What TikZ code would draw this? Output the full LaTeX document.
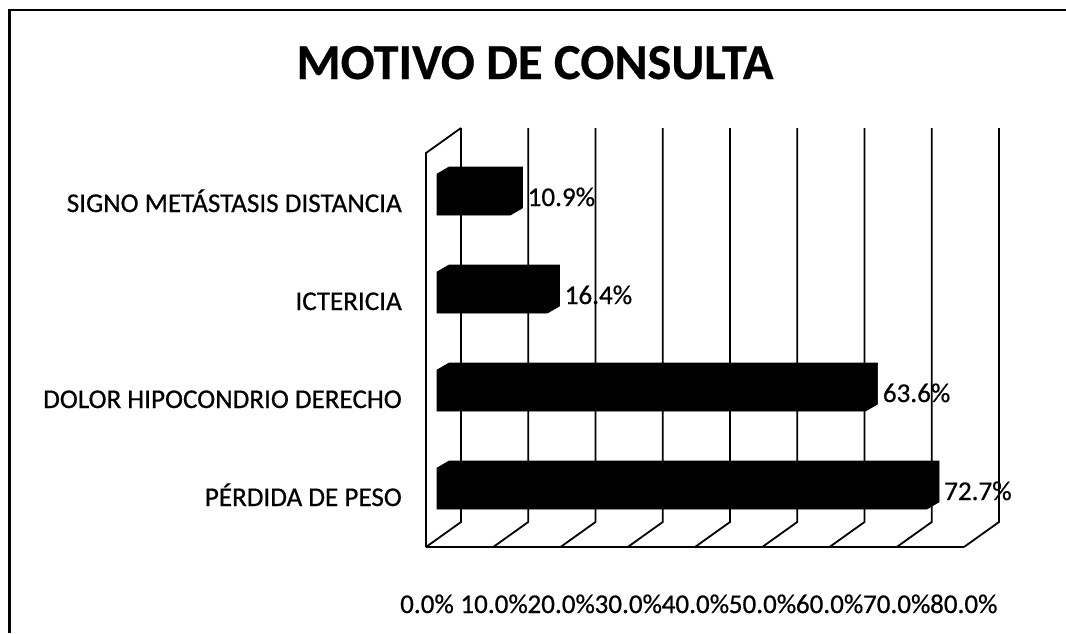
\documentclass[tikz,border=0pt]{standalone}
\usepackage{fontspec}
\setmainfont{Carlito}
\newfontface\labfont{Carlito}[FakeBold=0.6]
\newfontface\ttlfont{Carlito Bold}[FakeBold=0.4]
\begin{document}
\begin{tikzpicture}[x=1pt,y=-1pt,
  grid/.style={line width=1.8pt, black, line join=miter},
  frame/.style={line width=2.2pt, black},
  barshape/.style={fill=black, draw=black, line width=0.6pt, line join=round},
  cat/.style={anchor=base east, font=\labfont\fontsize{27.1}{31}\selectfont, inner sep=0pt},
  val/.style={anchor=base west, font=\labfont\fontsize{27.1}{31}\selectfont, inner sep=0pt},
  tick/.style={anchor=base, font=\labfont\fontsize{27.1}{31}\selectfont, inner sep=0pt},
  ttl/.style={anchor=base, font=\ttlfont\fontsize{50.4}{58}\selectfont, inner sep=0pt}]
\useasboundingbox (0,0) rectangle (1066,633);
\fill[white] (0,0) rectangle (1066,633);
\draw[frame] (9.5,633) -- (9.5,10) -- (1066,10);
\node[ttl] (title) at (535,79) {MOTIVO DE CONSULTA};
% left wall
\draw[grid] (426,547) -- (426,153) -- (461,128);
% back gridlines and floor
\foreach \k in {0,...,8} {
  \pgfmathsetmacro{\gx}{461+67.25*\k}
  \draw[grid] (\gx,128) -- (\gx,522) -- (\gx-35,547);
}
\draw[grid] (426,547) -- (964,547);
% axis labels
\foreach \k/\lab in {0/0.0\%,1/10.0\%,2/20.0\%,3/30.0\%,4/40.0\%,5/50.0\%,6/60.0\%,7/70.0\%,8/80.0\%} {
  \node[tick] (tk\k) at (427+67.1*\k,613) {\lab};
}
% bars
\foreach \n/\val/\lab in {0/10.9/SIGNO METÁSTASIS DISTANCIA,1/16.4/ICTERICIA,2/63.6/DOLOR HIPOCONDRIO DERECHO,3/72.7/PÉRDIDA DE PESO} {
  \pgfmathsetmacro{\by}{174+98*\n}
  \pgfmathsetmacro{\bx}{437+6.74*\val}
  \draw[barshape] (437,\by) -- (449,\by-7) -- (\bx+12,\by-7) -- (\bx+12,\by+34) -- (\bx,\by+41) -- (437,\by+41) -- cycle;
  \node[val] (v\n) at (\bx+17,\by+32) {\val\%};
  \node[cat] (c\n) at (402,\by+38) {\lab};
}
\end{tikzpicture}
\end{document}
